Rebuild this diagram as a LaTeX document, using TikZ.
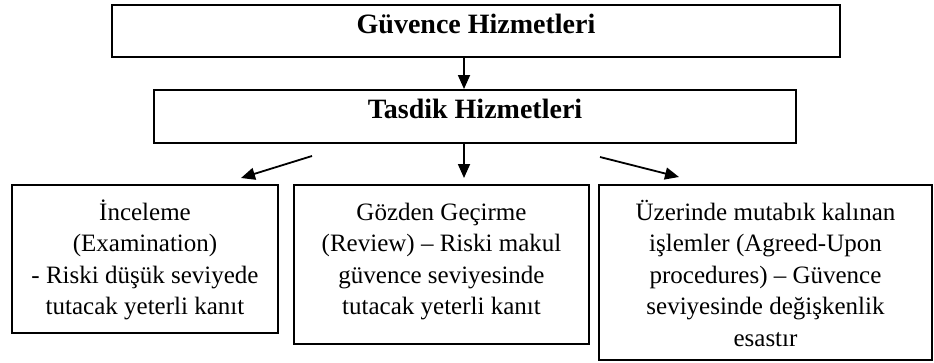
\documentclass[tikz,border=0pt]{standalone}
\usepackage{fontspec}
\setmainfont{Liberation Serif}
\usetikzlibrary{arrows.meta,calc}
\tikzset{
  box/.style={draw=black, line width=2pt, inner sep=0pt, anchor=north west},
  arr/.style={line width=1.8pt, -{Triangle[length=14pt,width=12pt]}},
}
\newcommand{\headbox}[3]{\parbox[t][#2][t]{#1}{\centering\fontsize{28}{33}\selectfont\bfseries\rule{0pt}{28pt}#3}}
\newcommand{\bodybox}[3]{\parbox[t][#2][t]{#1}{\centering\fontsize{25}{31.5}\selectfont\rule{0pt}{35pt}#3}}
\begin{document}
\begin{tikzpicture}[x=1pt,y=-1pt]
\useasboundingbox (0,0) rectangle (934,362);
\node[box] (b1) at (111,4) {\headbox{728pt}{52pt}{Güvence Hizmetleri}};
\node[box] (b2) at (153,89) {\headbox{642pt}{53pt}{Tasdik Hizmetleri}};
\node[box] (l) at (11,184) {\bodybox{266pt}{148pt}{İnceleme\\(Examination)\\- Riski düşük seviyede\\tutacak yeterli kanıt}};
\node[box] (m) at (293,184) {\bodybox{295pt}{159pt}{Gözden Geçirme\\(Review) – Riski makul\\güvence seviyesinde\\tutacak yeterli kanıt}};
\node[box] (r) at (598,184) {\bodybox{333pt}{175pt}{Üzerinde mutabık kalınan\\işlemler (Agreed-Upon\\procedures) – Güvence\\seviyesinde değişkenlik\\esastır}};
\draw[arr] ([xshift=-12pt]b1.south) -- ([xshift=-11pt]b2.north);
\draw[arr] ([xshift=-11pt]b2.south) -- ($(m.north)+(22.5,-6)$);
\draw[arr] ($(b2.south)+(-163,12)$) -- ($(l.north)+(96,-6)$);
\draw[arr] ($(b2.south)+(125,13)$) -- ($(r.north)+(-86.5,-7)$);
\end{tikzpicture}
\end{document}
